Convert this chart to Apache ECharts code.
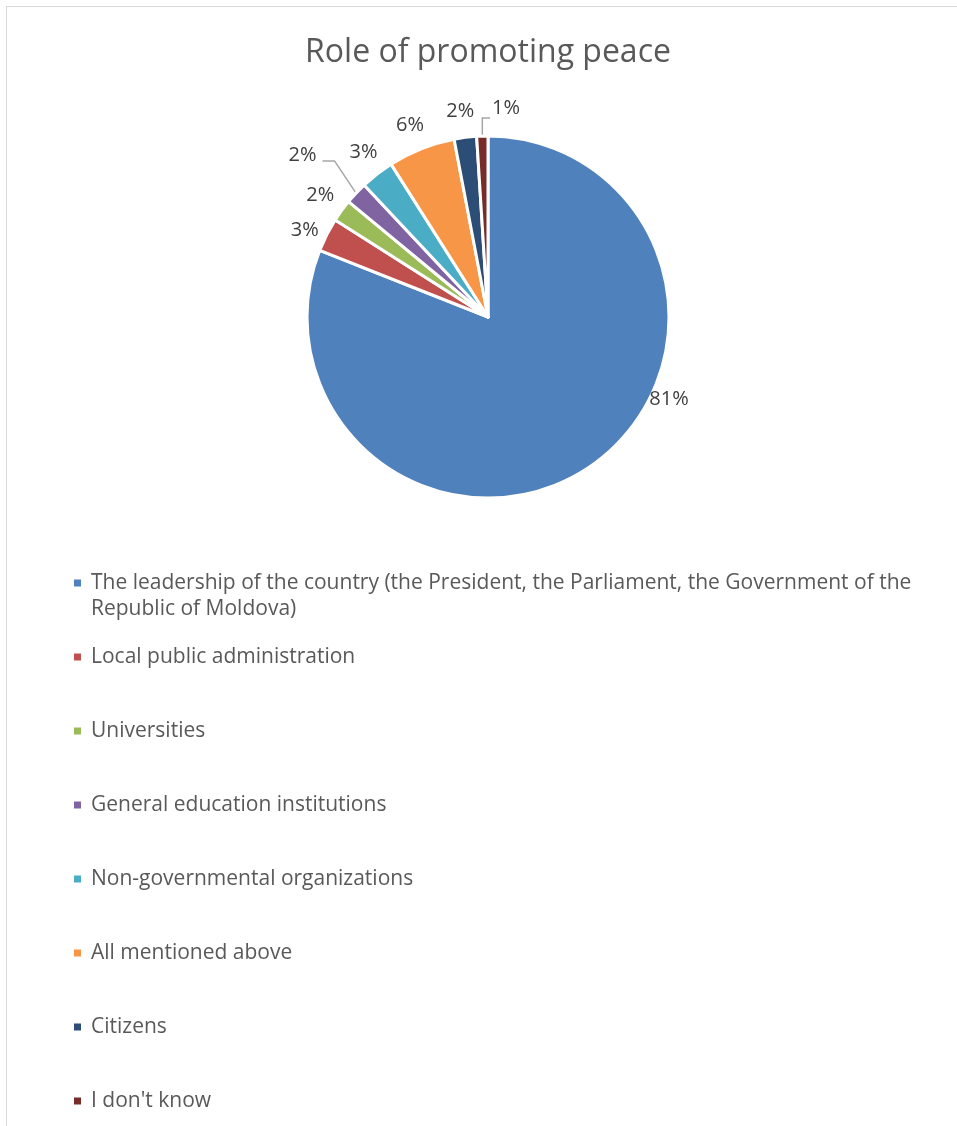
<!DOCTYPE html>
<html>
<head>
<meta charset="utf-8">
<title>Role of promoting peace</title>
<script src="https://cdn.jsdelivr.net/npm/echarts@6/dist/echarts.min.js"></script>
<style>
  html, body { margin: 0; padding: 0; background: #fff; overflow: hidden; }
  #frame { position: absolute; left: 6px; top: 6px; width: 1000px; height: 1200px; border: 1px solid #d9d9d9; }
  #chart { position: absolute; left: 0; top: 0; width: 957px; height: 1126px; }
</style>
</head>
<body>
<div id="frame"></div>
<div id="chart"></div>
<script>
const categories = [
  'The leadership of the country (the President, the Parliament, the Government of the Republic of Moldova)',
  'Local public administration',
  'Universities',
  'General education institutions',
  'Non-governmental organizations',
  'All mentioned above',
  'Citizens',
  "I don't know"
];
const shares = [81, 3, 2, 2, 3, 6, 2, 1];
const palette = ['#4F81BD', '#C0504D', '#9BBB59', '#8064A2', '#4BACC6', '#F79646', '#2C4D75', '#772C2A'];

const FONT = '"Open Sans"';
const CENTER = [488, 317];
const RADIUS = 181;

// mid angle of slice i, clockwise from 12 o'clock
function midAngle(i) {
  const total = shares.reduce((a, b) => a + b, 0);
  let before = 0;
  for (let k = 0; k < i; k++) before += shares[k];
  return (before + shares[i] / 2) / total * 2 * Math.PI;
}
function edgePoint(i, rr) {
  const a = midAngle(i);
  return [CENTER[0] + rr * Math.sin(a), CENTER[1] - rr * Math.cos(a)];
}

const chart = echarts.init(document.getElementById('chart'));
chart.setOption({
  animation: false,
  title: {
    text: 'Role of promoting peace',
    left: CENTER[0],
    textAlign: 'center',
    top: 37,
    padding: 0,
    textStyle: { fontFamily: FONT, fontSize: 32, fontWeight: 'normal', color: '#595959' }
  },
  legend: {
    orient: 'vertical',
    left: 72,
    top: 544,
    height: 700,
    padding: 0,
    itemWidth: 9,
    itemHeight: 9,
    itemGap: -4,
    icon: 'rect',
    data: categories,
    formatter: function (name) {
      // one blank line above so the icon sits on the first text line
      if (name === categories[0]) return '\n' + name.replace(' Republic', '\nRepublic');
      return '\n' + name + '\n';
    },
    textStyle: { fontFamily: FONT, fontSize: 21, color: '#595959', lineHeight: 26, padding: [0, 0, 0, 4] }
  },
  series: [
    {
      type: 'pie',
      center: CENTER,
      radius: RADIUS,
      startAngle: 90,
      clockwise: true,
      avoidLabelOverlap: false,
      itemStyle: { borderColor: '#fff', borderWidth: 3 },
      label: {
        show: true,
        position: 'outside',
        formatter: '{c}%',
        fontFamily: FONT,
        fontSize: 20,
        color: '#404040',
        distanceToLabelLine: 0
      },
      labelLine: { show: false, length: 9, length2: 0, lineStyle: { color: '#a6a6a6', width: 1.5 } },
      labelLayout: function (p) {
        const i = p.dataIndex;
        const b = p.labelRect;
        const right = b.x + b.width;
        const midY = b.y + b.height / 2;
        if (i === 0) {
          // best-fit: beside the right edge of the big slice
          const a = 117 * Math.PI / 180;
          return { x: CENTER[0] + RADIUS * Math.sin(a), y: CENTER[1] - RADIUS * Math.cos(a), align: 'left', verticalAlign: 'middle' };
        }
        if (i === 1) return {};
        if (i === 3) {
          const x = right - 33, y = midY - 32;
          return { x: x, y: y, align: 'right', labelLinePoints: [edgePoint(3, RADIUS), [x + 18, y + 6], [x + 6, y + 6]] };
        }
        if (i === 7) {
          const x = right + 10, y = midY - 19;
          const e = edgePoint(7, RADIUS);
          return { x: x, y: y, align: 'left', labelLinePoints: [e, [e[0], y + 10], [x - 2, y + 10]] };
        }
        if (i === 2) return { x: right, y: b.y };
        if (i === 6) return { x: right + 10, y: b.y - 7 };
        return { x: right + 6, y: b.y - 5 };
      },
      data: categories.map((name, i) => ({
        name: name,
        value: shares[i],
        itemStyle: { color: palette[i] },
        labelLine: { show: i === 3 || i === 7 }
      }))
    }
  ]
});
</script>
</body>
</html>
